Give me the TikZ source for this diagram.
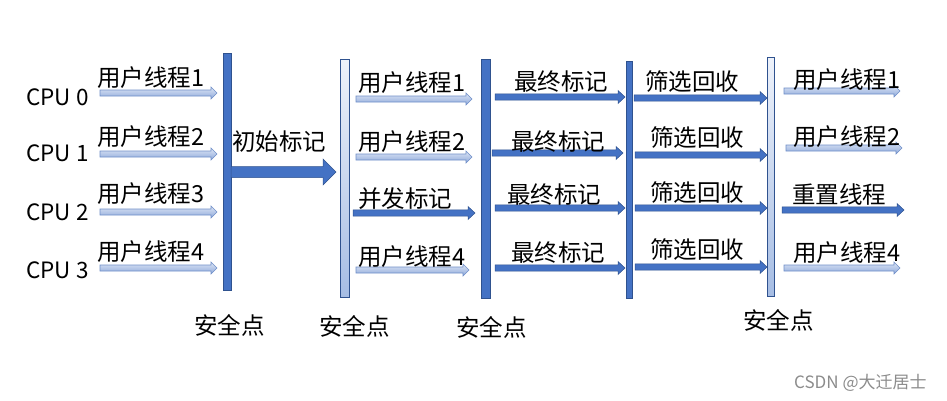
\documentclass[tikz,border=0pt]{standalone}
\usepackage{fontspec}
\setmainfont{Noto Sans CJK SC}
\definecolor{solidblue}{HTML}{4472C4}
\definecolor{edgeblue}{HTML}{2F528F}
\definecolor{lightedge}{HTML}{6F8FC9}
\definecolor{lighttop}{HTML}{EEF2FA}
\definecolor{lightbot}{HTML}{A6BDE4}
\definecolor{arrtop}{HTML}{DCE5F4}
\definecolor{arrbot}{HTML}{8EA9DB}
\newcommand\blockarr[7]{%
  \path[#1] (#2,#4-#5) -- (#3-#7,#4-#5) -- (#3-#7,#4-#6) -- (#3,#4)
    -- (#3-#7,#4+#6) -- (#3-#7,#4+#5) -- (#2,#4+#5) -- cycle;}
\newcommand\lightarr[3]{\blockarr{lightarrow}{#1}{#2}{#3}{3}{6}{6}}
\newcommand\darkarr[3]{\blockarr{darkarrow}{#1}{#2}{#3}{3.2}{6.5}{7}}
\tikzset{
  lightarrow/.style={draw=lightedge, line width=0.6pt, top color=arrtop, bottom color=arrbot},
  darkarrow/.style={draw=edgeblue, line width=0.5pt, fill=solidblue},
  solidbar/.style={draw=edgeblue, line width=0.7pt, fill=solidblue},
  lightbar/.style={draw=edgeblue, line width=0.7pt, top color=lighttop, bottom color=lightbot},
  lbl/.style={anchor=west, inner sep=0pt, font=\fontsize{23.5}{28}\selectfont},
  cpulbl/.style={anchor=west, inner sep=0pt, font=\fontsize{22.5}{27}\selectfont},
  wm/.style={anchor=west, inner sep=0pt, text=black!45, font=\fontsize{17}{20}\selectfont}
}
\begin{document}
\begin{tikzpicture}[x=1pt,y=-1pt]
\useasboundingbox[fill=white] (0,0) rectangle (947,400);
% CPU labels
\node[cpulbl] (cpu0) at (26,97) {CPU 0};
\node[cpulbl] (cpu1) at (26,153) {CPU 1};
\node[cpulbl] (cpu2) at (26,212) {CPU 2};
\node[cpulbl] (cpu3) at (26,270) {CPU 3};
% section 1
\lightarr{100}{217}{93}
\lightarr{100}{217}{154}
\lightarr{100}{217}{212}
\lightarr{100}{217}{268}
\node[lbl] (a1) at (97,78) {用户线程1};
\node[lbl] (a2) at (97,137) {用户线程2};
\node[lbl] (a3) at (97,194) {用户线程3};
\node[lbl] (a4) at (97,252) {用户线程4};
% bar 1
\path[solidbar] (223,53) rectangle (231,290);
% big arrow
\blockarr{darkarrow}{231}{336}{172}{5.5}{13}{13}
\node[lbl] (init) at (232,142) {初始标记};
% bar 2
\path[lightbar] (340,59) rectangle (349,297);
% section 2
\lightarr{356}{472}{99}
\lightarr{356}{472}{157}
\darkarr{353}{475}{213}
\lightarr{356}{469}{270}
\node[lbl] (b1) at (358,83) {用户线程1};
\node[lbl] (b2) at (358,142) {用户线程2};
\node[lbl] (b3) at (358,199) {并发标记};
\node[lbl] (b4) at (358,257) {用户线程4};
% bar 3
\path[solidbar] (481,59) rectangle (490,298);
% section 3
\darkarr{495}{625}{97}
\darkarr{492}{623}{153}
\darkarr{495}{625}{208}
\darkarr{495}{625}{268}
\node[lbl] (c1) at (514,82) {最终标记};
\node[lbl] (c2) at (511,142) {最终标记};
\node[lbl] (c3) at (507,195) {最终标记};
\node[lbl] (c4) at (511,253) {最终标记};
% bar 4
\path[solidbar] (626,61) rectangle (632,298);
% section 4
\darkarr{634}{767}{98}
\darkarr{635}{767}{155}
\darkarr{635}{767}{208}
\darkarr{635}{767}{267}
\node[lbl] (d1) at (645,82) {筛选回收};
\node[lbl] (d2) at (650,138) {筛选回收};
\node[lbl] (d3) at (650,193) {筛选回收};
\node[lbl] (d4) at (650,250) {筛选回收};
% bar 5
\path[lightbar] (767,57) rectangle (774,296);
% section 5
\lightarr{784}{900}{91}
\lightarr{786}{902}{148}
\darkarr{782}{904}{210}
\lightarr{784}{900}{268}
\node[lbl] (e1) at (793,80) {用户线程1};
\node[lbl] (e2) at (793,137) {用户线程2};
\node[lbl] (e3) at (792,195) {重置线程};
\node[lbl] (e4) at (793,253) {用户线程4};
% safe points
\node[lbl] (s1) at (194,325) {安全点};
\node[lbl] (s2) at (319,326) {安全点};
\node[lbl] (s3) at (456,327) {安全点};
\node[lbl] (s4) at (743,320) {安全点};
% watermark
\node[wm] (wmk) at (794,383) {CSDN @大迁居士};
\end{tikzpicture}
\end{document}
